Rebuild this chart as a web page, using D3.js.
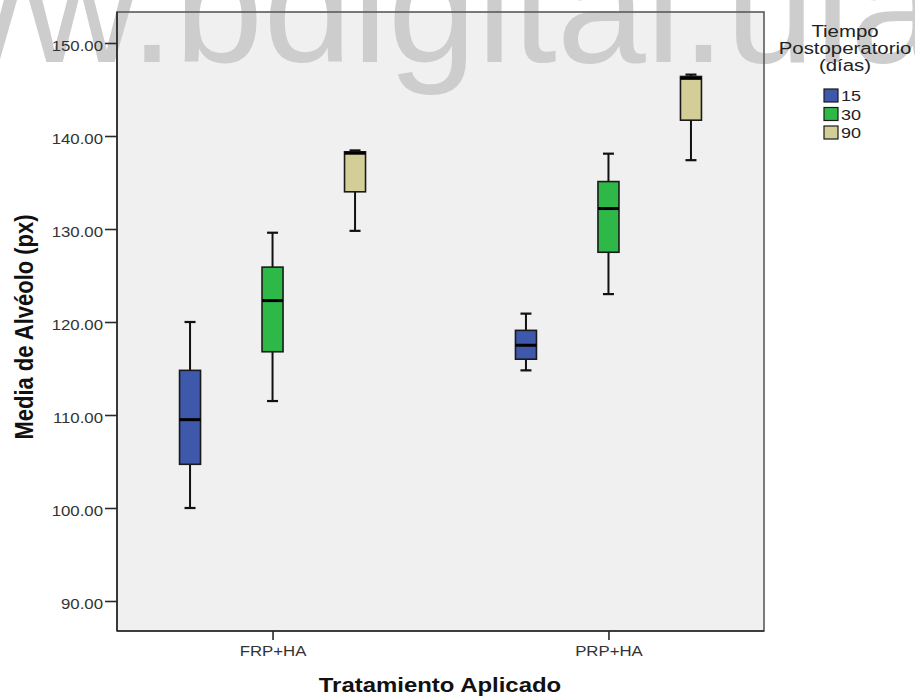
<!DOCTYPE html>
<html>
<head>
<meta charset="utf-8">
<script src="https://cdn.jsdelivr.net/npm/d3@7"></script>
<style>
  body { margin: 0; background: #fff; }
  svg { display: block; font-family: "Liberation Sans", Arial, sans-serif; }
</style>
</head>
<body>
<svg id="chart" width="915" height="696"></svg>
<script>
// data
var groups = ["FRP+HA", "PRP+HA"];
var times = ["15", "30", "90"];
var timeColors = ["#3e58ac", "#2eb848", "#d3ce97"];
var yTicks = [90, 100, 110, 120, 130, 140, 150];

// [min, q1, median, q3, max] per time, one array per treatment
var frpBoxes = [
  [100.0, 104.7, 109.5, 114.8, 120.0],
  [111.5, 116.8, 122.3, 125.9, 129.6],
  [129.8, 134.0, 138.15, 138.3, 138.45]
];
var prpBoxes = [
  [114.8, 116.0, 117.5, 119.1, 120.9],
  [123.0, 127.5, 132.2, 135.1, 138.1],
  [137.4, 141.7, 146.2, 146.4, 146.6]
];

var boxes = [];
[frpBoxes, prpBoxes].forEach(function(arr, gi) {
  arr.forEach(function(v, ti) {
    boxes.push({group: groups[gi], time: times[ti],
      min: v[0], q1: v[1], med: v[2], q3: v[3], max: v[4]});
  });
});

var plot = {left: 117, right: 764, top: 12, bottom: 631};
var stretch = 1.2; // the text in the reference is drawn a bit wide

var svg = d3.select("#chart");

var y = d3.scaleLinear().domain([90, 150]).range([601, 43]);
var x = d3.scalePoint().domain(groups).range([plot.left, plot.right]).padding(0.463);
var xt = d3.scalePoint().domain(times).range([-82.5, 82.5]);
var color = d3.scaleOrdinal().domain(times).range(timeColors);

var boxW = 21, capW = 11;

// plot background
svg.append("rect")
  .attr("x", plot.left).attr("y", plot.top)
  .attr("width", plot.right - plot.left).attr("height", plot.bottom - plot.top)
  .attr("fill", "#f0f0f0");

// watermark
svg.append("text")
  .attr("x", -208).attr("y", 62)
  .style("font-size", "160px")
  .attr("fill", "#cdcdcd")
  .text("www.bdigital.ula.ve");

// frame
svg.append("rect")
  .attr("x", plot.left).attr("y", plot.top)
  .attr("width", plot.right - plot.left).attr("height", plot.bottom - plot.top)
  .attr("fill", "none").attr("stroke", "#5a5a5a").attr("stroke-width", 1.6);
svg.append("line")
  .attr("x1", plot.left).attr("x2", plot.left)
  .attr("y1", plot.top).attr("y2", plot.bottom)
  .attr("stroke", "#2a2a2a").attr("stroke-width", 1.6);
svg.append("line")
  .attr("x1", plot.left).attr("x2", plot.right)
  .attr("y1", plot.bottom).attr("y2", plot.bottom)
  .attr("stroke", "#2a2a2a").attr("stroke-width", 1.6);

// y axis
var yAxis = d3.axisLeft(y).tickValues(yTicks).tickSize(12).tickPadding(2)
  .tickFormat(d3.format(".2f"));
var gy = svg.append("g")
  .attr("transform", "translate(" + plot.left + ",0)")
  .call(yAxis);
gy.select(".domain").remove();
gy.selectAll(".tick line").attr("stroke", "#2a2a2a").attr("stroke-width", 1.6);
gy.selectAll(".tick text")
  .attr("x", null).attr("dy", null).attr("y", 7)
  .attr("transform", "translate(-14,0) scale(" + stretch + ",1)")
  .style("font-size", "14px").attr("fill", "#333");

// x axis
var xAxis = d3.axisBottom(x).tickSize(9).tickPadding(0);
var gx = svg.append("g")
  .attr("transform", "translate(0," + plot.bottom + ")")
  .call(xAxis);
gx.select(".domain").remove();
gx.selectAll(".tick line").attr("stroke", "#2a2a2a").attr("stroke-width", 1.6);
gx.selectAll(".tick text")
  .attr("y", null).attr("dy", null)
  .attr("transform", "translate(0,25) scale(" + stretch + ",1)")
  .style("font-size", "14px").attr("fill", "#333");

// boxes
var bx = svg.selectAll(".box").data(boxes).enter().append("g")
  .attr("class", "box")
  .attr("transform", function(d) { return "translate(" + (x(d.group) + xt(d.time)) + ",0)"; });

bx.append("line")
  .attr("x1", 0).attr("x2", 0)
  .attr("y1", function(d) { return y(d.max); })
  .attr("y2", function(d) { return y(d.min); })
  .attr("stroke", "#111").attr("stroke-width", 2);

bx.selectAll(".cap")
  .data(function(d) { return [d.min, d.max]; })
  .enter().append("line")
  .attr("class", "cap")
  .attr("x1", -capW / 2).attr("x2", capW / 2)
  .attr("y1", function(v) { return y(v); })
  .attr("y2", function(v) { return y(v); })
  .attr("stroke", "#111").attr("stroke-width", 2.2);

bx.append("rect")
  .attr("x", -boxW / 2).attr("width", boxW)
  .attr("y", function(d) { return y(d.q3); })
  .attr("height", function(d) { return y(d.q1) - y(d.q3); })
  .attr("fill", function(d) { return color(d.time); })
  .attr("stroke", "#1a1a1a").attr("stroke-width", 1.6);

bx.append("line")
  .attr("x1", -boxW / 2).attr("x2", boxW / 2)
  .attr("y1", function(d) { return y(d.med); })
  .attr("y2", function(d) { return y(d.med); })
  .attr("stroke", "#000").attr("stroke-width", 3);

// axis titles
svg.append("text")
  .attr("transform", "translate(440,692) scale(1.14,1)")
  .attr("text-anchor", "middle")
  .style("font-size", "21px").style("font-weight", "bold")
  .attr("fill", "#111")
  .text("Tratamiento Aplicado");

svg.append("text")
  .attr("transform", "translate(33,327) scale(" + stretch + ",1) rotate(-90)")
  .attr("text-anchor", "middle")
  .style("font-size", "22px").style("font-weight", "bold")
  .attr("fill", "#111")
  .text("Media de Alvéolo (pxx)".replace("pxx", "px"));

// legend
var legendTitle = ["Tiempo", "Postoperatorio", "(días)"];
svg.selectAll(".ltitle").data(legendTitle).enter().append("text")
  .attr("class", "ltitle")
  .attr("transform", function(d, i) { return "translate(845," + (37 + i * 17) + ") scale(" + stretch + ",1)"; })
  .attr("text-anchor", "middle")
  .style("font-size", "17px").attr("fill", "#222")
  .text(function(d) { return d; });

var li = svg.selectAll(".litem").data(times).enter().append("g")
  .attr("class", "litem")
  .attr("transform", function(d, i) { return "translate(824," + (89 + i * 18.5) + ")"; });
li.append("rect")
  .attr("width", 14).attr("height", 13)
  .attr("fill", function(d) { return color(d); })
  .attr("stroke", "#1a1a1a").attr("stroke-width", 1.2);
li.append("text")
  .attr("transform", "translate(17,12) scale(" + stretch + ",1)")
  .style("font-size", "15px").attr("fill", "#222")
  .text(function(d) { return d; });
</script>
</body>
</html>
